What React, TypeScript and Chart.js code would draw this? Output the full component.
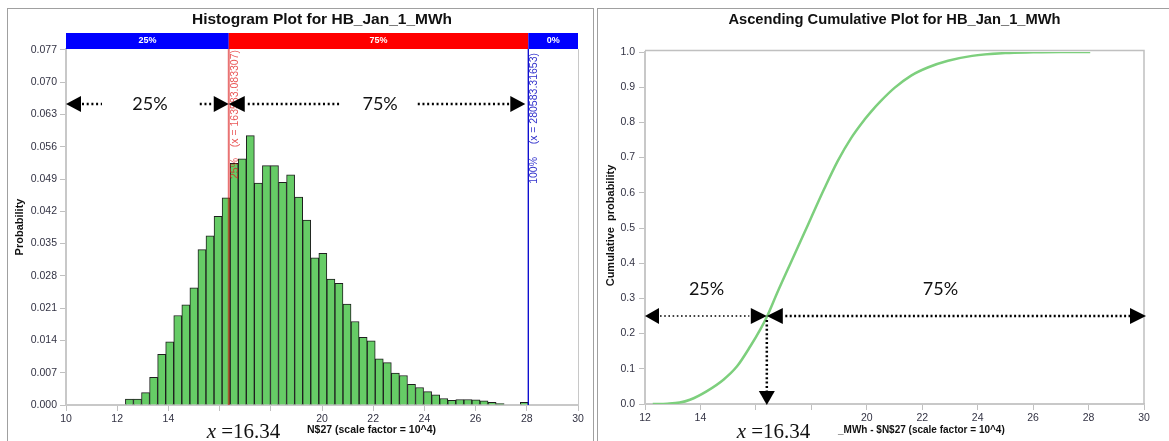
import React, { useEffect, useRef } from 'react';
import { Chart, registerables } from 'chart.js';

Chart.register(...registerables);

// ---------- Histogram data ----------
const binCenters = [
  12.477, 12.792, 13.107, 13.422, 13.737, 14.051, 14.366, 14.681, 14.996, 15.311,
  15.625, 15.940, 16.255, 16.570, 16.885, 17.200, 17.514, 17.829, 18.144, 18.459,
  18.774, 19.088, 19.403, 19.718, 20.033, 20.348, 20.662, 20.977, 21.292, 21.607,
  21.922, 22.236, 22.551, 22.866, 23.181, 23.496, 23.810, 24.125, 24.440, 24.755,
  25.070, 25.384, 25.699, 26.014, 26.329, 26.644, 26.958, 27.273, 27.588, 27.903,
];
const probabilities = [
  0.0013, 0.0013, 0.0027, 0.0060, 0.0110, 0.0137, 0.0194, 0.0217, 0.0254, 0.0337,
  0.0367, 0.0409, 0.0449, 0.0524, 0.0534, 0.0584, 0.0481, 0.0519, 0.0519, 0.0483,
  0.0499, 0.0451, 0.0401, 0.0319, 0.0329, 0.0273, 0.0264, 0.0219, 0.0181, 0.0147,
  0.0139, 0.0100, 0.0092, 0.0069, 0.0064, 0.0045, 0.0038, 0.0029, 0.0022, 0.0014,
  0.0010, 0.0012, 0.0012, 0.0011, 0.0009, 0.0006, 0.0003, 0.0, 0.0, 0.0006,
];
const histXTicks = [10, 12, 14, 16, 18, 20, 22, 24, 26, 28, 30];
const histYTicks = [0, 0.007, 0.014, 0.021, 0.028, 0.035, 0.042, 0.049, 0.056, 0.063, 0.070, 0.077];
const hiddenXTicks = [16, 18];
const p25Value = 16.3583083307;
const p100Value = 28.058331653;
const bandLabels = ['25%', '75%', '0%'];
const lineLabels25 = ['(x = 163583.083307)', '25%'];
const lineLabels100 = ['(x = 280583.31653)', '100%'];
const pctLabels = ['25%', '75%'];

// ---------- Cumulative data ----------
const cdfX = [12.28, 12.8, 13.25, 13.62, 14.22, 14.83, 15.32, 15.8, 16.16, 16.41, 16.77, 17.25, 17.74, 17.98, 18.47, 18.95, 19.44, 19.92, 20.15, 20.51, 21.0, 21.6, 22.2, 22.93, 23.8, 25.0, 26.0, 27.0, 28.06];
const cdfY = [0, 0.001, 0.004, 0.012, 0.036, 0.069, 0.107, 0.164, 0.212, 0.25, 0.316, 0.40, 0.485, 0.527, 0.612, 0.690, 0.756, 0.808, 0.83, 0.861, 0.898, 0.933, 0.956, 0.975, 0.989, 0.997, 0.999, 1.0, 1.0];
const cdfXTicks = [12, 14, 16, 18, 20, 22, 24, 26, 28, 30];
const cdfYTicks = [0, 0.1, 0.2, 0.3, 0.4, 0.5, 0.6, 0.7, 0.8, 0.9, 1.0];
const quantileLevel = 0.25;
const quantileX = 16.34;

const SANS = '"Liberation Sans", Arial, sans-serif';
const SERIF = '"Liberation Serif", "Times New Roman", serif';
const CALI = 'Lato, "Open Sans", sans-serif';
const tickColor = '#333344';

function tri(ctx: CanvasRenderingContext2D, tipX: number, tipY: number, dir: 'l' | 'r' | 'd', len: number, half: number) {
  ctx.beginPath();
  ctx.moveTo(tipX, tipY);
  if (dir === 'l') { ctx.lineTo(tipX + len, tipY - half); ctx.lineTo(tipX + len, tipY + half); }
  else if (dir === 'r') { ctx.lineTo(tipX - len, tipY - half); ctx.lineTo(tipX - len, tipY + half); }
  else { ctx.lineTo(tipX - half, tipY - len); ctx.lineTo(tipX + half, tipY - len); }
  ctx.closePath();
  ctx.fill();
}

function dotted(ctx: CanvasRenderingContext2D, x1: number, y1: number, x2: number, y2: number, w: number, dash: number[]) {
  ctx.save();
  ctx.lineWidth = w;
  ctx.setLineDash(dash);
  ctx.strokeStyle = '#000';
  ctx.beginPath();
  ctx.moveTo(x1, y1);
  ctx.lineTo(x2, y2);
  ctx.stroke();
  ctx.restore();
}

function drawXEq(ctx: CanvasRenderingContext2D, x: number, y: number) {
  ctx.fillStyle = '#111';
  ctx.textAlign = 'left';
  ctx.textBaseline = 'alphabetic';
  ctx.font = `italic 21px ${SERIF}`;
  ctx.fillText('x', x, y);
  const w = ctx.measureText('x').width;
  ctx.font = `21px ${SERIF}`;
  ctx.fillText(' =16.34', x + w, y);
}

const histOverlay = {
  id: 'histOverlay',
  afterDraw(chart: any) {
    const { ctx, chartArea: ca, scales } = chart;
    const x = scales.x, y = scales.y;
    const px25 = x.getPixelForValue(p25Value);
    const px100 = x.getPixelForValue(p100Value);
    ctx.save();
    ctx.strokeStyle = '#c8c8c8';
    ctx.lineWidth = 1;
    ctx.beginPath();
    ctx.moveTo(ca.right + 0.5, ca.top);
    ctx.lineTo(ca.right + 0.5, ca.bottom);
    ctx.stroke();
    const bh = 16;
    const bt = ca.top - bh;
    ctx.fillStyle = '#0000ff';
    ctx.fillRect(ca.left, bt, px25 - ca.left, bh);
    ctx.fillStyle = '#ff0000';
    ctx.fillRect(px25, bt, px100 - px25, bh);
    ctx.fillStyle = '#0000ff';
    ctx.fillRect(px100, bt, ca.right - px100, bh);
    ctx.fillStyle = '#ffffff';
    ctx.font = `bold 9px ${SANS}`;
    ctx.textAlign = 'center';
    ctx.textBaseline = 'middle';
    ctx.fillText(bandLabels[0], (ca.left + px25) / 2, bt + bh / 2);
    ctx.fillText(bandLabels[1], (px25 + px100) / 2, bt + bh / 2);
    ctx.fillText(bandLabels[2], (px100 + ca.right) / 2, bt + bh / 2);
    ctx.strokeStyle = 'rgba(215,0,0,0.55)';
    ctx.lineWidth = 2;
    ctx.beginPath();
    ctx.moveTo(px25, ca.top);
    ctx.lineTo(px25, ca.bottom);
    ctx.stroke();
    ctx.strokeStyle = '#0000cc';
    ctx.lineWidth = 1.3;
    ctx.beginPath();
    ctx.moveTo(px100, ca.top);
    ctx.lineTo(px100, ca.bottom);
    ctx.stroke();
    const rot = (text: string, cx: number, topY: number, color: string) => {
      ctx.save();
      ctx.translate(cx, topY);
      ctx.rotate(-Math.PI / 2);
      ctx.fillStyle = color;
      ctx.font = `10.5px ${SANS}`;
      ctx.textAlign = 'right';
      ctx.textBaseline = 'middle';
      ctx.fillText(text, 0, 0);
      ctx.restore();
    };
    rot(lineLabels25[0], px25 + 6, ca.top + 1, 'rgba(225,30,30,0.75)');
    rot(lineLabels25[1], px25 + 6, ca.top + 109, 'rgba(225,30,30,0.75)');
    rot(lineLabels100[0], px100 + 6, ca.top + 4, '#3333cc');
    rot(lineLabels100[1], px100 + 6, ca.top + 108, '#3333cc');
    ctx.fillStyle = '#111';
    ctx.font = `bold 15.5px ${SANS}`;
    ctx.textAlign = 'center';
    ctx.textBaseline = 'alphabetic';
    ctx.fillText('Histogram Plot for HB_Jan_1_MWh', (ca.left + ca.right) / 2, 24);
    ctx.save();
    ctx.translate(19.5, (ca.top + ca.bottom) / 2);
    ctx.rotate(-Math.PI / 2);
    ctx.font = `bold 11px ${SANS}`;
    ctx.textBaseline = 'middle';
    ctx.fillText('Probability', 0, 0);
    ctx.restore();
    ctx.font = `bold 10.5px ${SANS}`;
    ctx.textAlign = 'left';
    ctx.textBaseline = 'middle';
    ctx.fillStyle = '#111';
    ctx.fillText('N$27 (scale factor = 10^4)', 307, 430);
    const ay = y.getPixelForValue(0.0653);
    ctx.fillStyle = '#000';
    tri(ctx, ca.left, ay, 'l', 15, 8);
    dotted(ctx, ca.left + 16, ay, ca.left + 36, ay, 2.5, [2, 2.7]);
    dotted(ctx, px25 - 29, ay, px25 - 15, ay, 2.5, [2, 2.7]);
    tri(ctx, px25, ay, 'r', 15, 8);
    tri(ctx, px25, ay, 'l', 16, 8);
    dotted(ctx, px25 + 19, ay, px25 + 111, ay, 2.5, [2, 2.7]);
    dotted(ctx, px25 + 189, ay, px100 - 18, ay, 2.5, [2, 2.7]);
    tri(ctx, px100 - 3, ay, 'r', 15, 8);
    ctx.font = `18px ${CALI}`;
    ctx.textAlign = 'center';
    ctx.textBaseline = 'middle';
    ctx.fillStyle = '#111';
    ctx.fillText(pctLabels[0], x.getPixelForValue(13.28), ay);
    ctx.fillText(pctLabels[1], x.getPixelForValue(22.27), ay);
    drawXEq(ctx, 206.7, 437.5);
    ctx.restore();
  },
};

const cdfOverlay = {
  id: 'cdfOverlay',
  afterDraw(chart: any) {
    const { ctx, chartArea: ca, scales } = chart;
    const x = scales.x, y = scales.y;
    ctx.save();
    ctx.strokeStyle = '#c0c0c0';
    ctx.lineWidth = 1.5;
    ctx.beginPath();
    ctx.moveTo(ca.left, ca.top - 1.5);
    ctx.lineTo(ca.right, ca.top - 1.5);
    ctx.lineTo(ca.right, ca.bottom);
    ctx.stroke();
    ctx.fillStyle = '#111';
    ctx.font = `bold 14.7px ${SANS}`;
    ctx.textAlign = 'center';
    ctx.textBaseline = 'alphabetic';
    ctx.fillText('Ascending Cumulative Plot for HB_Jan_1_MWh', (ca.left + ca.right) / 2, 24);
    ctx.save();
    ctx.translate(16, 225.5);
    ctx.rotate(-Math.PI / 2);
    ctx.font = `bold 11px ${SANS}`;
    ctx.textBaseline = 'middle';
    ctx.fillText('Cumulative  probability', 0, 0);
    ctx.restore();
    ctx.font = `bold 10px ${SANS}`;
    ctx.textAlign = 'left';
    ctx.textBaseline = 'middle';
    ctx.fillText('_MWh - $N$27 (scale factor = 10^4)', 243, 430.7);
    const qy = y.getPixelForValue(quantileLevel);
    const qx = x.getPixelForValue(quantileX);
    ctx.fillStyle = '#000';
    tri(ctx, ca.left, qy, 'l', 14, 8);
    dotted(ctx, ca.left + 15, qy, qx - 16, qy, 1.6, [1.6, 2.6]);
    tri(ctx, qx + 1.5, qy, 'r', 16, 8);
    tri(ctx, qx + 1.5, qy, 'l', 16, 8);
    dotted(ctx, qx + 20, qy, ca.right - 14, qy, 2.5, [2, 2.4]);
    tri(ctx, ca.right + 2, qy, 'r', 16, 8);
    dotted(ctx, qx + 1.5, qy + 4, qx + 1.5, ca.bottom - 13, 2.5, [2, 2.4]);
    tri(ctx, qx + 1.5, ca.bottom + 1, 'd', 14, 8);
    ctx.font = `18px ${CALI}`;
    ctx.textAlign = 'center';
    ctx.textBaseline = 'middle';
    ctx.fillStyle = '#111';
    ctx.fillText(pctLabels[0], x.getPixelForValue(14.22), y.getPixelForValue(0.327));
    ctx.fillText(pctLabels[1], x.getPixelForValue(22.66), y.getPixelForValue(0.327));
    drawXEq(ctx, 141.7, 437.5);
    ctx.restore();
  },
};

export default function App() {
  const leftRef = useRef<HTMLCanvasElement>(null);
  const rightRef = useRef<HTMLCanvasElement>(null);

  useEffect(() => {
    const tickFont = { family: SANS, size: 10.5 };
    const hist = new Chart(leftRef.current!, {
      type: 'bar',
      data: {
        datasets: [{
          data: binCenters.map((c, i) => ({ x: c, y: probabilities[i] })),
          backgroundColor: '#66cc66',
          borderColor: '#1e1e1e',
          borderWidth: 1,
          barPercentage: 1,
          categoryPercentage: 1,
        } as any],
      },
      options: {
        animation: false,
        responsive: false,
        maintainAspectRatio: false,
        layout: { padding: { left: 0, right: 17, top: 49, bottom: 0 } },
        plugins: { legend: { display: false }, title: { display: false }, tooltip: { enabled: false } },
        scales: {
          x: {
            type: 'linear', min: 10, max: 30, offset: false,
            afterBuildTicks: (s: any) => { s.ticks = histXTicks.map(v => ({ value: v })); },
            afterFit: (s: any) => { s.height = 36; },
            grid: { offset: false, drawOnChartArea: false, tickLength: 6, color: '#c0c0c0' },
            border: { color: '#c8c8c8', width: 2 },
            ticks: {
              autoSkip: false, maxRotation: 0, padding: 2, color: tickColor, font: tickFont,
              callback: (v: any) => (hiddenXTicks.includes(Number(v)) ? '' : String(v)),
            },
          },
          y: {
            min: 0, max: 0.0772,
            afterBuildTicks: (s: any) => { s.ticks = histYTicks.map(v => ({ value: v })); },
            afterFit: (s: any) => { s.width = 66; },
            grid: { drawOnChartArea: false, tickLength: 6, color: '#c0c0c0' },
            border: { color: '#c8c8c8', width: 2 },
            ticks: { padding: 3, color: tickColor, font: tickFont, callback: (v: any) => Number(v).toFixed(3) },
          },
        },
      } as any,
      plugins: [histOverlay],
    });

    const cdf = new Chart(rightRef.current!, {
      type: 'line',
      data: {
        datasets: [{
          data: cdfX.map((v, i) => ({ x: v, y: cdfY[i] })),
          borderColor: '#7dcf7d',
          borderWidth: 2.5,
          pointRadius: 0,
          fill: false,
          cubicInterpolationMode: 'monotone',
        } as any],
      },
      options: {
        animation: false,
        responsive: false,
        maintainAspectRatio: false,
        layout: { padding: { left: 0, right: 25, top: 52, bottom: 0 } },
        plugins: { legend: { display: false }, title: { display: false }, tooltip: { enabled: false } },
        scales: {
          x: {
            type: 'linear', min: 12, max: 30,
            afterBuildTicks: (s: any) => { s.ticks = cdfXTicks.map(v => ({ value: v })); },
            afterFit: (s: any) => { s.height = 37; },
            grid: { drawOnChartArea: false, tickLength: 6, color: '#c0c0c0' },
            border: { color: '#c8c8c8', width: 2 },
            ticks: {
              autoSkip: false, maxRotation: 0, padding: 2, color: tickColor, font: { family: SANS, size: 10.5 },
              callback: (v: any) => (hiddenXTicks.includes(Number(v)) ? '' : String(v)),
            },
          },
          y: {
            min: 0, max: 1,
            afterBuildTicks: (s: any) => { s.ticks = cdfYTicks.map(v => ({ value: v })); },
            afterFit: (s: any) => { s.width = 50; },
            grid: { drawOnChartArea: false, tickLength: 6, color: '#c0c0c0' },
            border: { color: '#c8c8c8', width: 2 },
            ticks: { padding: 4, color: tickColor, font: { family: SANS, size: 10.5 }, callback: (v: any) => Number(v).toFixed(1) },
          },
        },
      } as any,
      plugins: [cdfOverlay],
    });

    return () => { hist.destroy(); cdf.destroy(); };
  }, []);

  return (
    <div style={{ position: 'fixed', left: 0, top: 0, width: 1169, height: 441, overflow: 'hidden', background: '#fff' }}>
      <div style={{ position: 'absolute', left: 7, top: 8, width: 585, height: 460, border: '1px solid #a0a0a0' }} />
      <div style={{ position: 'absolute', left: 597, top: 8, width: 600, height: 460, border: '1px solid #a0a0a0' }} />
      <canvas ref={leftRef} width={595} height={441} style={{ position: 'absolute', left: 0, top: 0 }} />
      <canvas ref={rightRef} width={574} height={441} style={{ position: 'absolute', left: 595, top: 0 }} />
    </div>
  );
}
